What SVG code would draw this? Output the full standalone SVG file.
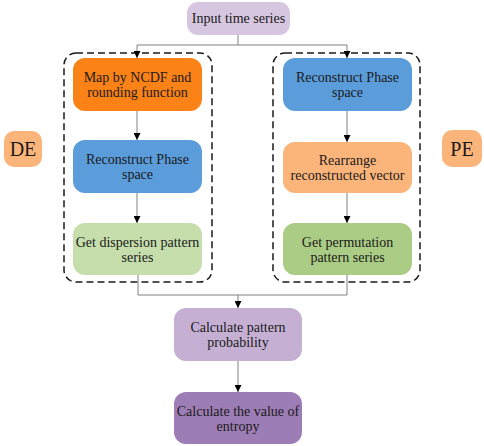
<svg xmlns="http://www.w3.org/2000/svg" width="484" height="446" viewBox="0 0 484 446">
<style>
text{font-family:"Liberation Serif","DejaVu Serif",serif;font-size:14px;fill:#1a1a1a;text-anchor:middle}
.big{font-size:20px}
.ln{stroke:#808080;stroke-width:1;fill:none}
.fr{stroke:#1a1a1a;stroke-width:1.5;fill:none;stroke-dasharray:7 4}
</style>
<defs>
<marker id="ah" viewBox="0 0 10 10" refX="10" refY="5" markerWidth="7" markerHeight="7" markerUnits="userSpaceOnUse" orient="auto">
<path d="M0,0 L10,5 L0,10 z" fill="#000"/>
</marker>
</defs>
<g id="frames">
<rect class="fr" x="64" y="53" width="148" height="229" rx="12"/>
<rect class="fr" x="273" y="53" width="147" height="229" rx="12"/>
</g>
<g id="connectors">
<polyline class="ln" points="238,35 238,45 137,45 137,58" marker-end="url(#ah)"/>
<polyline class="ln" points="238,45 347,45 347,58" marker-end="url(#ah)"/>
<line class="ln" x1="137" y1="111" x2="137" y2="140" marker-end="url(#ah)"/>
<line class="ln" x1="137" y1="193" x2="137" y2="223" marker-end="url(#ah)"/>
<line class="ln" x1="347" y1="111" x2="347" y2="142" marker-end="url(#ah)"/>
<line class="ln" x1="347" y1="193" x2="347" y2="223" marker-end="url(#ah)"/>
<polyline class="ln" points="138,275 138,295 347,295 347,275"/>
<line class="ln" x1="238" y1="295" x2="238" y2="308" marker-end="url(#ah)"/>
<line class="ln" x1="238" y1="361" x2="238" y2="392" marker-end="url(#ah)"/>
</g>
<g id="input"><rect x="187" y="2" width="103" height="33" rx="11" fill="#D6C6DF"/><text x="238.5" y="23">Input time series</text></g>
<g id="de"><rect x="4" y="131" width="38" height="36" rx="10" fill="#FBB47A"/><text class="big" x="23" y="156">DE</text></g>
<g id="pe"><rect x="442" y="130" width="40" height="37" rx="10" fill="#FBB47A"/><text class="big" x="462" y="155.5">PE</text></g>
<g id="map"><rect x="73" y="58" width="129" height="53" rx="12" fill="#FB8217"/><text x="137.5" y="82">Map by NCDF and</text><text x="137.5" y="97">rounding function</text></g>
<g id="rps1"><rect x="73" y="140" width="129" height="53" rx="12" fill="#5B9CDB"/><text x="137.5" y="164">Reconstruct Phase</text><text x="137.5" y="179">space</text></g>
<g id="gdp"><rect x="73" y="223" width="129" height="52" rx="12" fill="#C5DEAC"/><text x="137.5" y="247">Get dispersion pattern</text><text x="137.5" y="262">series</text></g>
<g id="rps2"><rect x="283" y="58" width="129" height="53" rx="12" fill="#5B9CDB"/><text x="347.5" y="82">Reconstruct Phase</text><text x="347.5" y="97">space</text></g>
<g id="rrv"><rect x="283" y="142" width="129" height="51" rx="12" fill="#FBB47A"/><text x="347.5" y="165">Rearrange</text><text x="347.5" y="180">reconstructed vector</text></g>
<g id="gpp"><rect x="283" y="223" width="129" height="52" rx="12" fill="#ABCC84"/><text x="347.5" y="247">Get permutation</text><text x="347.5" y="262">pattern series</text></g>
<g id="cpp"><rect x="174" y="308" width="128" height="53" rx="12" fill="#C5B0D4"/><text x="238" y="332">Calculate pattern</text><text x="238" y="347">probability</text></g>
<g id="cve"><rect x="174" y="392" width="128" height="52" rx="12" fill="#9D7DB5"/><text x="238" y="416">Calculate the value of</text><text x="238" y="431">entropy</text></g>
</svg>
